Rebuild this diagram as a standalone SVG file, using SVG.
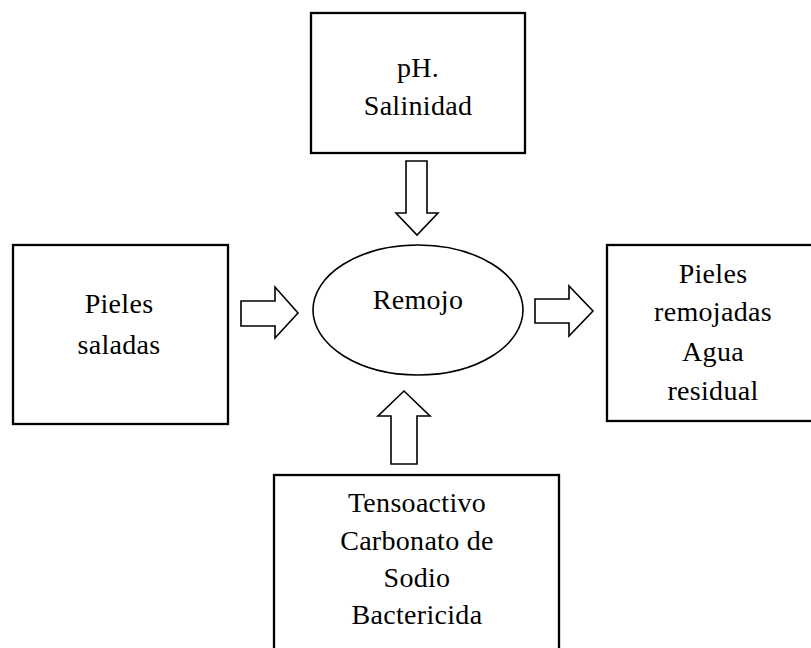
<svg xmlns="http://www.w3.org/2000/svg" width="811" height="648" viewBox="0 0 811 648">
  <style>
    .box { fill: #ffffff; stroke: #000000; stroke-width: 2.3; }
    .proc { fill: #ffffff; stroke: #000000; stroke-width: 1.6; }
    .arrow { fill: #ffffff; stroke: #000000; stroke-width: 1.6; stroke-linejoin: miter; }
    text { font-family: "Liberation Serif", "Times New Roman", serif; font-size: 28px; letter-spacing: 0.3px; fill: #000000; text-anchor: middle; }
  </style>
  <rect width="811" height="648" fill="#ffffff"/>

  <g id="connectors">
    <!-- input from top box, pointing down -->
    <path class="arrow" d="M406,161 H427 V213 H438 L417,235 L396,213 H406 Z"/>
    <!-- input from left box, pointing right -->
    <path class="arrow" d="M241,301 H275 V287 L298,313 L275,338 V326 H241 Z"/>
    <!-- output to right box, pointing right -->
    <path class="arrow" d="M535,299 H569 V286 L593,311 L569,336 V323 H535 Z"/>
    <!-- input from bottom box, pointing up -->
    <path class="arrow" d="M391,464 V416 H378 L404,391 L430,416 H417 V464 Z"/>
  </g>

  <g id="node-parametros">
    <rect class="box" x="311" y="13" width="214" height="140"/>
    <text x="418" y="77">pH.</text>
    <text x="418" y="115">Salinidad</text>
  </g>

  <g id="node-pieles-saladas">
    <rect class="box" x="13" y="245" width="215" height="179"/>
    <text x="119" y="313">Pieles</text>
    <text x="119" y="354">saladas</text>
  </g>

  <g id="node-remojo">
    <ellipse class="proc" cx="418" cy="310" rx="105" ry="65"/>
    <text x="418" y="309">Remojo</text>
  </g>

  <g id="node-salidas">
    <rect class="box" x="607" y="245" width="210" height="176"/>
    <text x="713" y="283">Pieles</text>
    <text x="713" y="321">remojadas</text>
    <text x="713" y="361">Agua</text>
    <text x="713" y="400">residual</text>
  </g>

  <g id="node-insumos">
    <rect class="box" x="274" y="475" width="285" height="190"/>
    <text x="417" y="512">Tensoactivo</text>
    <text x="417" y="550">Carbonato de</text>
    <text x="417" y="587">Sodio</text>
    <text x="417" y="624">Bactericida</text>
  </g>
</svg>
